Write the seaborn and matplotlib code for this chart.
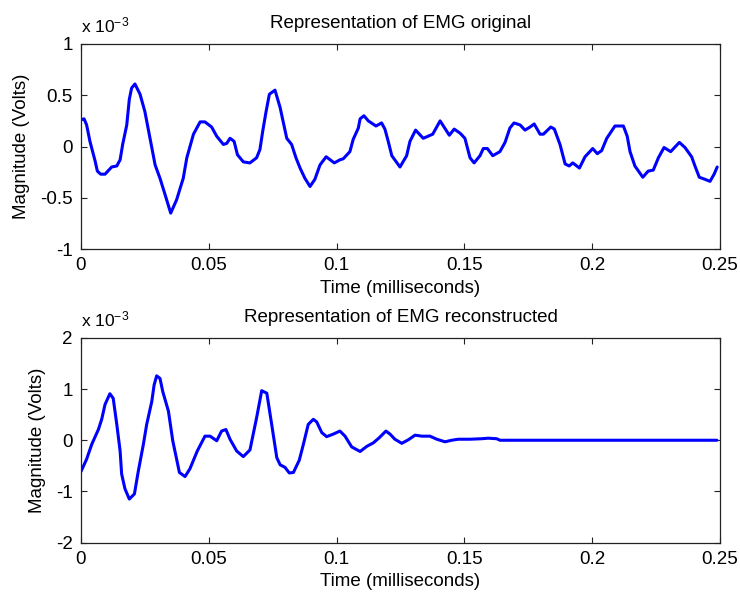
import numpy as np
import pandas as pd
import matplotlib
matplotlib.use("Agg")
import matplotlib.pyplot as plt
import seaborn as sns

# ---- data (values in units of 1e-3 V) ----
t_orig = [0.0, 0.0012, 0.0022, 0.0035, 0.0055, 0.0064, 0.0077, 0.0094, 0.0120, 0.0140,
          0.0153, 0.0163, 0.0179, 0.0189, 0.0198, 0.0211, 0.0231, 0.0250, 0.0270, 0.0290,
          0.0309, 0.0329, 0.0351, 0.0374, 0.0400, 0.0414, 0.0440, 0.0466, 0.0485, 0.0511,
          0.0531, 0.0557, 0.0570, 0.0583, 0.0599, 0.0612, 0.0635, 0.0661, 0.0687, 0.0700,
          0.0711, 0.0724, 0.0737, 0.0759, 0.0779, 0.0805, 0.0824, 0.0841, 0.0857, 0.0876,
          0.0896, 0.0915, 0.0935, 0.0959, 0.0991, 0.1013, 0.1026, 0.1052, 0.1065, 0.1085,
          0.1092, 0.1107, 0.1124, 0.1154, 0.1176, 0.1189, 0.1202, 0.1216, 0.1248, 0.1274,
          0.1287, 0.1309, 0.1339, 0.1376, 0.1405, 0.1441, 0.1460, 0.1483, 0.1502, 0.1522,
          0.1538, 0.1561, 0.1574, 0.1590, 0.1611, 0.1639, 0.1659, 0.1678, 0.1694, 0.1718,
          0.1737, 0.1757, 0.1773, 0.1796, 0.1809, 0.1838, 0.1852, 0.1874, 0.1894, 0.1910,
          0.1924, 0.1950, 0.1972, 0.2002, 0.2020, 0.2037, 0.2057, 0.2089, 0.2122, 0.2137,
          0.2148, 0.2167, 0.2198, 0.2219, 0.2239, 0.2259, 0.2281, 0.2307, 0.2341, 0.2363,
          0.2389, 0.2402, 0.2419, 0.2441, 0.2461, 0.2477, 0.2489]
v_orig = [0.26, 0.27, 0.21, 0.05, -0.14, -0.24, -0.27, -0.27, -0.20, -0.19,
          -0.13, 0.02, 0.21, 0.46, 0.57, 0.61, 0.51, 0.34, 0.08, -0.18,
          -0.31, -0.47, -0.65, -0.52, -0.31, -0.11, 0.12, 0.24, 0.24, 0.19,
          0.10, 0.02, 0.03, 0.08, 0.05, -0.08, -0.15, -0.16, -0.11, -0.03,
          0.15, 0.34, 0.51, 0.55, 0.38, 0.08, 0.02, -0.11, -0.21, -0.31,
          -0.39, -0.32, -0.18, -0.10, -0.16, -0.13, -0.12, -0.05, 0.07, 0.18,
          0.27, 0.30, 0.25, 0.20, 0.23, 0.17, 0.05, -0.09, -0.20, -0.09,
          0.05, 0.16, 0.08, 0.12, 0.25, 0.11, 0.17, 0.13, 0.08, -0.11,
          -0.16, -0.09, -0.02, -0.02, -0.09, -0.05, 0.04, 0.18, 0.23, 0.21,
          0.16, 0.19, 0.22, 0.12, 0.12, 0.19, 0.17, 0.02, -0.17, -0.19,
          -0.16, -0.21, -0.10, -0.02, -0.07, -0.04, 0.08, 0.20, 0.20, 0.10,
          -0.05, -0.19, -0.30, -0.24, -0.23, -0.11, -0.01, -0.05, 0.04, -0.01,
          -0.10, -0.19, -0.30, -0.32, -0.34, -0.27, -0.20]

t_rec = [0.0, 0.0022, 0.0042, 0.0068, 0.0081, 0.0094, 0.0113, 0.0126, 0.0140, 0.0153,
         0.0159, 0.0172, 0.0189, 0.0209, 0.0224, 0.0244, 0.0257, 0.0277, 0.0286, 0.0296,
         0.0309, 0.0320, 0.0342, 0.0359, 0.0385, 0.0407, 0.0426, 0.0455, 0.0485, 0.0505,
         0.0531, 0.0550, 0.0567, 0.0583, 0.0609, 0.0635, 0.0661, 0.0687, 0.0707, 0.0727,
         0.0746, 0.0766, 0.0779, 0.0798, 0.0815, 0.0831, 0.0854, 0.0870, 0.0889, 0.0909,
         0.0922, 0.0942, 0.0961, 0.0987, 0.1013, 0.1033, 0.1059, 0.1092, 0.1118, 0.1144,
         0.1167, 0.1193, 0.1209, 0.1228, 0.1255, 0.1281, 0.1307, 0.1333, 0.1365, 0.1392,
         0.1424, 0.1450, 0.1476, 0.1522, 0.1568, 0.1593, 0.1626, 0.1639, 0.2488]
v_rec = [-0.61, -0.37, -0.08, 0.21, 0.41, 0.70, 0.91, 0.82, 0.31, -0.21,
         -0.66, -0.95, -1.15, -1.05, -0.61, -0.08, 0.31, 0.76, 1.08, 1.26,
         1.21, 0.95, 0.57, -0.01, -0.63, -0.71, -0.56, -0.21, 0.08, 0.08,
         -0.01, 0.18, 0.21, 0.02, -0.21, -0.32, -0.19, 0.44, 0.97, 0.92,
         0.31, -0.34, -0.48, -0.53, -0.64, -0.63, -0.39, -0.08, 0.31, 0.41,
         0.36, 0.15, 0.07, 0.12, 0.18, 0.08, -0.13, -0.22, -0.12, -0.05,
         0.05, 0.18, 0.12, 0.02, -0.06, 0.01, 0.10, 0.08, 0.08, 0.02,
         -0.03, 0.0, 0.02, 0.02, 0.03, 0.04, 0.03, 0.0, 0.0]

titles = ["Representation of EMG original", "Representation of EMG reconstructed"]
xticks = [0, 0.05, 0.1, 0.15, 0.2, 0.25]
xtick_labels = ["0", "0.05", "0.1", "0.15", "0.2", "0.25"]
yticks_top = [-1, -0.5, 0, 0.5, 1]
ytick_labels_top = ["-1", "-0.5", "0", "0.5", "1"]
yticks_bot = [-2, -1, 0, 1, 2]
ytick_labels_bot = ["-2", "-1", "0", "1", "2"]

sns.set_theme(style="white")
plt.rcParams["font.family"] = ["Liberation Sans", "DejaVu Sans"]
plt.rcParams["axes.unicode_minus"] = False
plt.rcParams["mathtext.fontset"] = "custom"
plt.rcParams["mathtext.rm"] = "Liberation Sans"
plt.rcParams["mathtext.it"] = "Liberation Sans"

W, H = 740, 592
fig = plt.figure(figsize=(W / 100, H / 100), dpi=100)
fig.patch.set_facecolor("white")

def px_axes(left, top, right, bottom):
    return fig.add_axes([left / W, 1 - bottom / H, (right - left) / W, (bottom - top) / H])

ax1 = px_axes(81, 44, 720, 249)
ax2 = px_axes(81, 338, 720, 542.5)

fs = 13.5
specs = [
    (ax1, t_orig, v_orig, titles[0], yticks_top, ytick_labels_top, (-1, 1)),
    (ax2, t_rec, v_rec, titles[1], yticks_bot, ytick_labels_bot, (-2, 2)),
]
for ax, t, v, title, yt, ytl, ylim in specs:
    df = pd.DataFrame({"t": t, "v": v})
    sns.lineplot(data=df, x="t", y="v", ax=ax, color="#0000ff", linewidth=2.2,
                 estimator=None, sort=False)
    ax.set_xlim(0, 0.25)
    ax.set_ylim(*ylim)
    ax.set_xticks(xticks)
    ax.set_xticklabels(xtick_labels)
    ax.set_yticks(yt)
    ax.set_yticklabels(ytl)
    ax.set_facecolor("white")
    for s in ax.spines.values():
        s.set_visible(True)
        s.set_color("#222222")
        s.set_linewidth(0.9)
    ax.tick_params(axis="both", which="major", direction="in", length=4, width=0.8,
                   color="#222222", labelsize=fs, labelcolor="black",
                   top=True, right=True, bottom=True, left=True)
    ax.tick_params(axis="x", pad=6)
    ax.tick_params(axis="y", pad=6)
    ax.set_xlabel("Time (milliseconds)", fontsize=fs, color="black", labelpad=4)
    ax.set_ylabel("Magnitude (Volts)", fontsize=fs, color="black", labelpad=7)
    ax.set_title(title, fontsize=fs, color="black", pad=11.5)
    ax.grid(False)
    ax.text(0.0, 1.04, r"x 10$^{-3}$", transform=ax.transAxes, fontsize=12.5,
            ha="left", va="bottom", color="black")

fig.savefig("out.png", dpi=100, facecolor="white")
